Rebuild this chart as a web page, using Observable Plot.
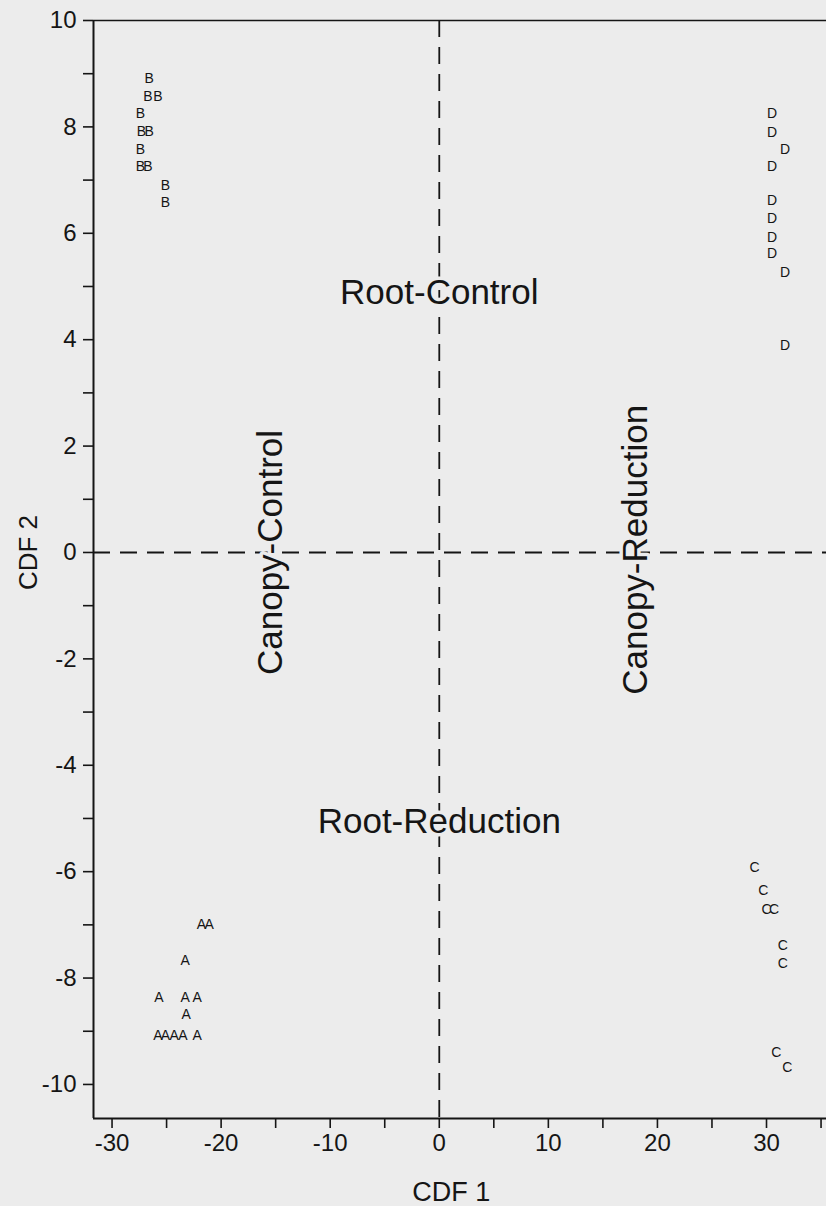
<!DOCTYPE html>
<html>
<head>
<meta charset="utf-8">
<script src="https://cdn.jsdelivr.net/npm/d3@7"></script>
<script src="https://cdn.jsdelivr.net/npm/@observablehq/plot@0.6"></script>
<style>
  html, body { margin: 0; padding: 0; background: #ececec; }
  #chart svg { display: block; }
</style>
</head>
<body>
<div id="chart"></div>
<script>
// Group scores (CDF 1, CDF 2)
const groupA_x = [-21.8, -21.1, -23.3, -25.7, -23.3, -22.2, -23.2, -25.8, -25.1, -24.3, -23.5, -22.2];
const groupA_y = [-7.0, -7.0, -7.67, -8.37, -8.37, -8.37, -8.69, -9.08, -9.08, -9.08, -9.08, -9.08];

const groupB_x = [-26.6, -26.7, -25.8, -27.4, -27.3, -26.6, -27.4, -27.4, -26.7, -25.1, -25.1];
const groupB_y = [8.91, 8.57, 8.57, 8.25, 7.91, 7.91, 7.58, 7.26, 7.26, 6.90, 6.58];

const groupC_x = [28.9, 29.7, 30.0, 30.7, 31.5, 31.5, 30.9, 31.9];
const groupC_y = [-5.92, -6.35, -6.71, -6.71, -7.39, -7.73, -9.40, -9.68];

const groupD_x = [30.5, 30.5, 31.7, 30.5, 30.5, 30.5, 30.5, 30.5, 31.7, 31.7];
const groupD_y = [8.25, 7.89, 7.57, 7.26, 6.62, 6.28, 5.92, 5.62, 5.26, 3.89];

const groupNames = ["A", "B", "C", "D"];

// Quadrant annotations (data coordinates)
const quadrantLabels = ["Root-Control", "Root-Reduction", "Canopy-Control", "Canopy-Reduction"];
const quadrantX = [0, 0, -15.4, 18.0];
const quadrantY = [4.89, -5.07, 0, 0.05];
const quadrantRotate = [0, 0, -90, -90];

// Axis ticks
const xTicks = d3.range(-30, 36, 5);
const xTickLabels = [-30, -20, -10, 0, 10, 20, 30];
const yTicks = d3.range(-10, 11, 1);
const yTickLabels = [-10, -8, -6, -4, -2, 0, 2, 4, 6, 8, 10];

const xDomain = [-31.7, 35.5];
const yDomain = [-10.64, 10];

// Build table
const groupsX = [groupA_x, groupB_x, groupC_x, groupD_x];
const groupsY = [groupA_y, groupB_y, groupC_y, groupD_y];
const points = [];
groupNames.forEach((g, i) => {
  groupsX[i].forEach((x, j) => points.push({g, x, y: groupsY[i][j]}));
});
const annotations = quadrantLabels.map((t, i) => ({t, x: quadrantX[i], y: quadrantY[i], r: quadrantRotate[i]}));

const ink = "#151515";
const bg = "#ececec";

const chart = Plot.plot({
  width: 826,
  height: 1206,
  marginLeft: 93,
  marginRight: 0,
  marginTop: 20,
  marginBottom: 88,
  style: {
    background: bg,
    color: ink,
    fontFamily: "'Liberation Sans', Arial, Helvetica, sans-serif"
  },
  x: { domain: xDomain },
  y: { domain: yDomain },
  marks: [
    // frame lines: left, bottom, top
    Plot.ruleX([xDomain[0]], { stroke: ink, strokeWidth: 2 }),
    Plot.ruleY([yDomain[0]], { stroke: ink, strokeWidth: 2 }),
    Plot.ruleY([yDomain[1]], { stroke: ink, strokeWidth: 1.5 }),
    // dashed reference lines
    Plot.ruleX([0], { stroke: ink, strokeWidth: 1.8, strokeDasharray: "17,10" }),
    Plot.ruleY([0], { stroke: ink, strokeWidth: 1.8, strokeDasharray: "17,10" }),
    // axes
    Plot.axisX({
      ticks: xTicks,
      tickFormat: d => xTickLabels.includes(d) ? String(d) : "",
      tickSize: 10,
      tickPadding: 5,
      strokeWidth: 1.6,
      fontSize: 24,
      label: null
    }),
    Plot.axisY({
      ticks: yTicks,
      tickFormat: d => yTickLabels.includes(d) ? String(d) : "",
      tickSize: 10,
      tickPadding: 7,
      strokeWidth: 1.6,
      fontSize: 24,
      label: null
    }),
    // axis titles
    Plot.text(["CDF 1"], { x: 1.1, y: yDomain[0], dy: 74, fontSize: 27, fill: ink }),
    Plot.text(["CDF 2"], { x: xDomain[0], y: 0, dx: -65, rotate: -90, fontSize: 26, fill: ink }),
    // quadrant labels (with a halo that interrupts the dashed lines)
    Plot.text(annotations, { x: "x", y: "y", text: "t", rotate: "r", fontSize: 35, fill: ink, stroke: bg, strokeWidth: 7 }),
    // group letters
    Plot.text(points, { x: "x", y: "y", text: "g", fontSize: 14, fill: ink })
  ]
});
document.getElementById("chart").appendChild(chart);
</script>
</body>
</html>
